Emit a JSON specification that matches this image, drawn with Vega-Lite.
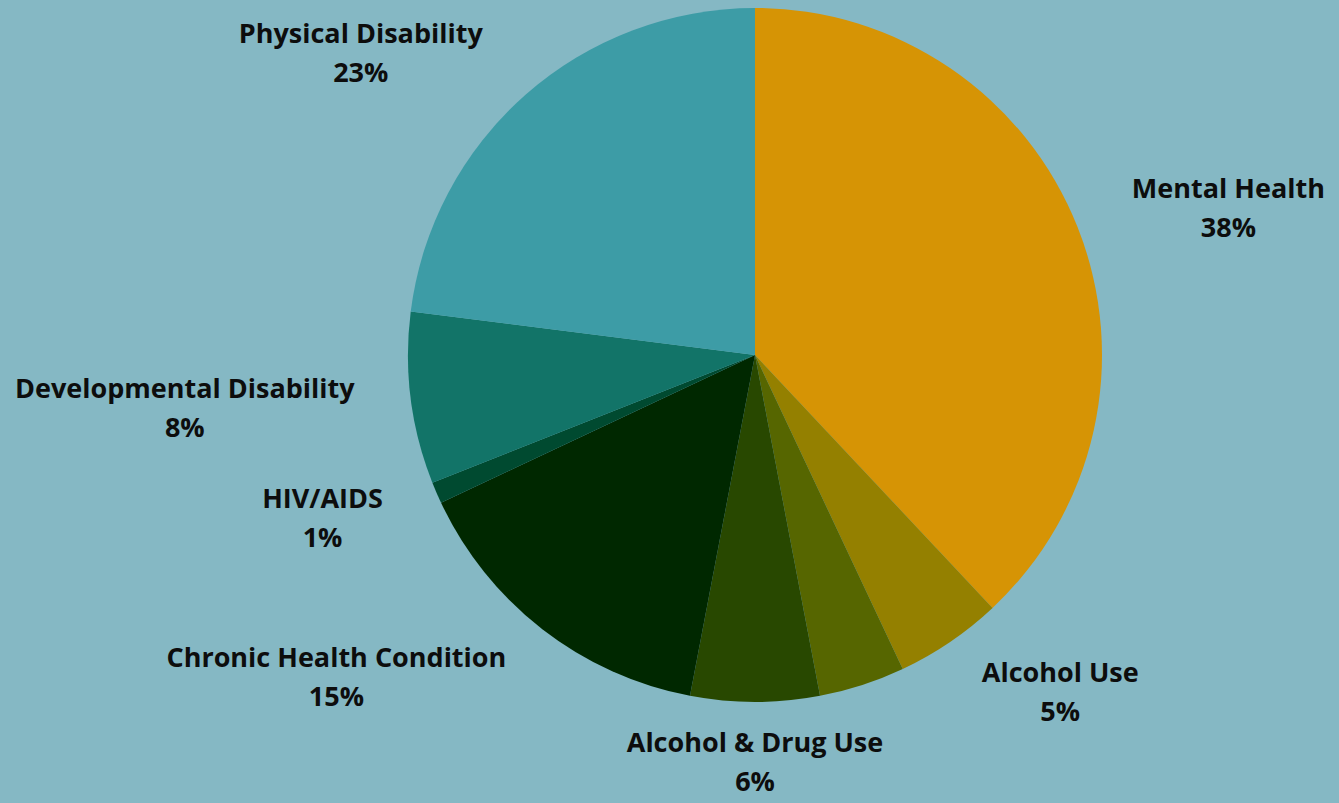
{
  "$schema": "https://vega.github.io/schema/vega-lite/v6.json",
  "width": 1168,
  "height": 710,
  "autosize": "none",
  "padding": {"left": 171, "top": 0, "right": 0, "bottom": 93},
  "background": "#85b8c4",
  "config": {"view": {"stroke": null}},
  "data": {
    "values": [
      {"category": "Mental Health", "value": 38},
      {"category": "Alcohol Use", "value": 5},
      {"category": "Drug Use", "value": 4},
      {"category": "Alcohol & Drug Use", "value": 6},
      {"category": "Chronic Health Condition", "value": 15},
      {"category": "HIV/AIDS", "value": 1},
      {"category": "Developmental Disability", "value": 8},
      {"category": "Physical Disability", "value": 23}
    ]
  },
  "transform": [
    {"window": [{"op": "row_number", "as": "rank"}]},
    {"window": [{"op": "sum", "field": "value", "as": "cum"}], "sort": [{"field": "rank"}], "frame": [null, 0]}
  ],
  "encoding": {
    "theta": {"field": "value", "type": "quantitative", "stack": true},
    "order": {"field": "rank", "type": "quantitative"},
    "color": {
      "field": "category",
      "type": "nominal",
      "legend": null,
      "scale": {
        "domain": ["Mental Health", "Alcohol Use", "Drug Use", "Alcohol & Drug Use", "Chronic Health Condition", "HIV/AIDS", "Developmental Disability", "Physical Disability"],
        "range": ["#d69405", "#948000", "#566600", "#284800", "#002800", "#004a30", "#127468", "#3d9ca6"]
      }
    }
  },
  "layer": [
    {
      "mark": {"type": "arc", "outerRadius": 347}
    },
    {
      "transform": [
        {"calculate": "datum.category == 'Drug Use' ? '' : datum.category + '|' + datum.value + '%'", "as": "label"},
        {"calculate": "sin(PI * (2 * datum.cum - datum.value) / 100)", "as": "side"},
        {"calculate": "15.2 * length(datum.category) - 6 * length(replace(datum.category, regexp('[^il]', 'g'), '')) + 8 * length(replace(datum.category, regexp('[^mM]', 'g'), ''))", "as": "tw"}
      ],
      "mark": {
        "type": "text",
        "radius": 405,
        "font": "Open Sans",
        "fontWeight": "bold",
        "fontSize": 27,
        "lineHeight": 39,
        "lineBreak": "|",
        "baseline": "middle",
        "align": "center",
        "dy": -16,
        "dx": {"expr": "(datum.side > 0.1 ? 1 : datum.side < -0.1 ? -1 : 0) * datum.tw / 2"}
      },
      "encoding": {
        "text": {"field": "label"},
        "color": {"value": "#0d0d0d"}
      }
    }
  ]
}
